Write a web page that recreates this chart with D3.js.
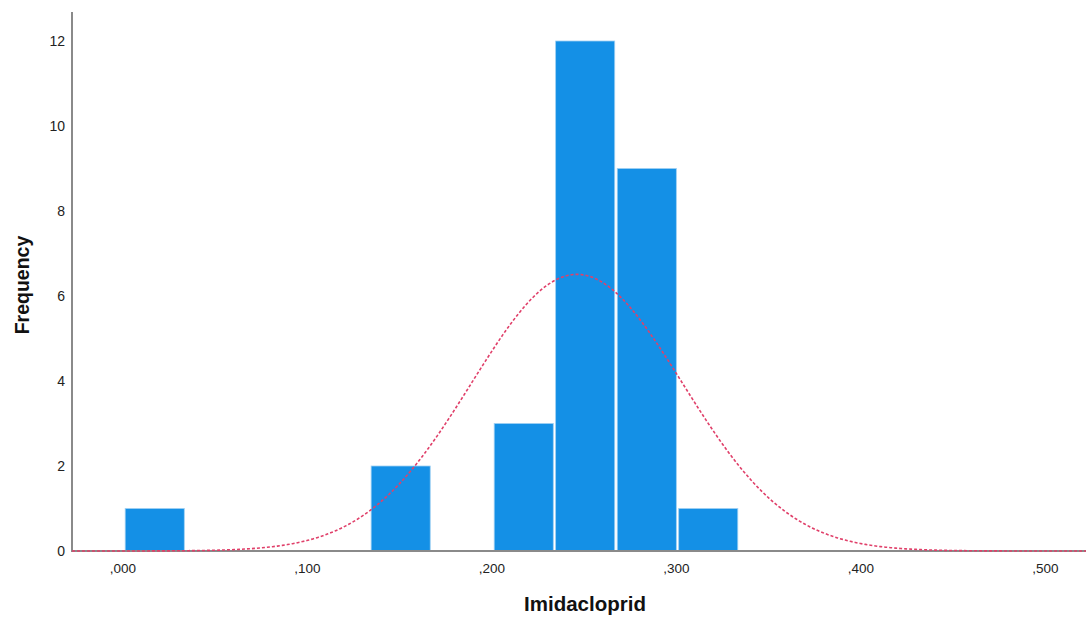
<!DOCTYPE html>
<html><head><meta charset="utf-8">
<script src="https://cdn.jsdelivr.net/npm/d3@7"></script>
<style>body{margin:0;background:#fff}svg{display:block}text{font-family:"Liberation Sans",Arial,sans-serif}</style>
</head><body>
<svg id="c" width="1086" height="619"></svg>
<script>
// Histogram bins (lower edge, upper edge) and counts
const binStarts = [0, 0.1333, 0.2, 0.2333, 0.2667, 0.3];
const binWidth = 0.03333;
const counts = [1, 2, 3, 12, 9, 1];
const xTicks = [0, 0.1, 0.2, 0.3, 0.4, 0.5];
const xTickLabels = [",000", ",100", ",200", ",300", ",400", ",500"];
const yTicks = [0, 2, 4, 6, 8, 10, 12];
const N = 28, mean = 0.2455, sd = 0.0572;

const svg = d3.select("#c");
const x = d3.scaleLinear().domain([-0.02818, 0.52141]).range([72, 1086]);
const y = d3.scaleLinear().domain([0, 12]).range([551, 41]);

// bars
svg.append("g").selectAll("rect").data(binStarts).join("rect")
  .attr("x", (d) => x(d) + 1.2)
  .attr("width", (d) => x(d + binWidth) - x(d) - 2.4)
  .attr("y", (d, i) => y(counts[i]))
  .attr("height", (d, i) => y(0) - y(counts[i]))
  .attr("fill", "#1490e6")
  .attr("stroke", "#9fd0f3")
  .attr("stroke-width", 0.8);

// axes lines
svg.append("line").attr("x1", 72).attr("x2", 1086).attr("y1", y(0)).attr("y2", y(0))
  .attr("stroke", "#8a8a8a").attr("stroke-width", 2);
svg.append("line").attr("x1", 72).attr("x2", 72).attr("y1", 12).attr("y2", y(0) + 1)
  .attr("stroke", "#8a8a8a").attr("stroke-width", 2);

// normal curve
const pts = d3.range(0, 401).map(i => {
  const v = x.invert(72 + (1086 - 72) * i / 400);
  const dens = N * binWidth / (sd * Math.sqrt(2 * Math.PI)) * Math.exp(-0.5 * ((v - mean) / sd) ** 2);
  return [v, dens];
});
svg.append("path").datum(pts)
  .attr("d", d3.line().x(d => x(d[0])).y(d => y(d[1])))
  .attr("fill", "none").attr("stroke", "#e0406a").attr("stroke-width", 1.6)
  .attr("stroke-dasharray", "3,2");

// y tick labels
svg.append("g").selectAll("text").data(yTicks).join("text")
  .attr("x", 65).attr("y", d => y(d) + 5)
  .attr("text-anchor", "end").attr("font-size", 14).attr("fill", "#222")
  .text(d => d);

// x tick labels
svg.append("g").selectAll("text").data(xTicks).join("text")
  .attr("x", d => x(d) - 1).attr("y", 573)
  .attr("text-anchor", "middle").attr("font-size", 13.5).attr("fill", "#222")
  .text((d, i) => xTickLabels[i]);

// titles
svg.append("text").attr("x", 585).attr("y", 611).attr("text-anchor", "middle")
  .attr("font-size", 20.5).attr("font-weight", "bold").attr("fill", "#111").text("Imidacloprid");
svg.append("text").attr("transform", "translate(29,285) rotate(-90)").attr("text-anchor", "middle")
  .attr("font-size", 19.5).attr("font-weight", "bold").attr("fill", "#111").text("Frequency");
</script>
</body></html>
